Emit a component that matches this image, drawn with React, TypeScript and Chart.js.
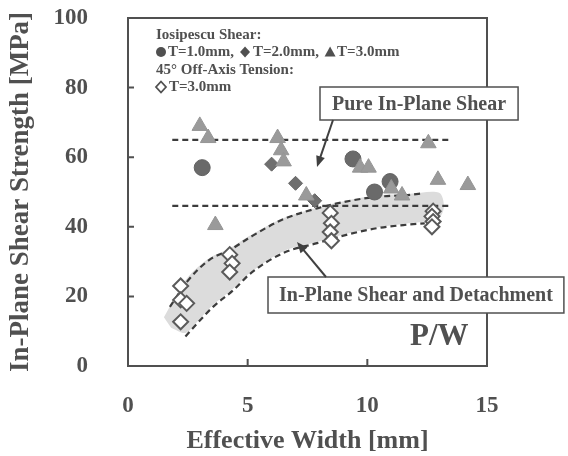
import React, { useEffect, useRef } from 'react';
import { Chart, registerables } from 'chart.js';

Chart.register(...registerables);

// ---- data ----
const xTicks = [0, 5, 10, 15];
const yTicks = [0, 20, 40, 60, 80, 100];

const circlesX = [3.1, 9.4, 10.3, 10.95];
const circlesY = [57, 59.5, 50, 53];

const diamondsX = [6.0, 7.0, 7.8];
const diamondsY = [58, 52.5, 47.5];

const trianglesX = [3.0, 3.35, 3.65, 6.25, 6.4, 6.5, 7.45, 9.7, 10.05, 11.0, 11.45, 12.55, 12.95, 14.2];
const trianglesY = [69, 65.5, 40.5, 65.5, 62, 58.8, 49, 57, 57, 51, 49, 64, 53.5, 52];

const offAxisX = [2.2, 2.2, 2.45, 2.2, 4.25, 4.35, 4.25, 8.45, 8.5, 8.45, 8.5, 12.75, 12.7, 12.75, 12.7];
const offAxisY = [23, 19, 18, 12.7, 32, 29.5, 27, 44, 41, 38.5, 36, 44.5, 43, 41.5, 40];

const pureLineX = [1.85, 13.5];
const pureUpperY = [65, 65];
const pureLowerY = [46, 46];

const upperCurveX = [1.75, 2.5, 3.4, 4.3, 5.1, 6.5, 7.9, 9.3, 10.4, 11.8, 12.3];
const upperCurveY = [17, 24.5, 30.5, 33.5, 37, 42.2, 45.3, 47.5, 48.6, 49.2, 49.6];

const lowerCurveX = [2.4, 2.9, 3.55, 4.4, 5.1, 6.5, 7.9, 9.3, 10.4, 11.5, 12.4];
const lowerCurveY = [8.5, 12.3, 17, 21.8, 26.5, 32.5, 35.3, 38, 39.6, 40.5, 41];

const bandX = [1.5, 1.9, 2.5, 3.4, 4.3, 5.1, 6.5, 7.9, 9.3, 10.4, 11.8, 13.0, 13.2, 13.0, 12.4, 11.5, 10.4, 9.3, 7.9, 6.5, 5.1, 4.4, 3.55, 2.9, 2.4, 1.8];
const bandY = [14, 19, 25.5, 31, 34, 37.5, 42.5, 45.5, 47.8, 49, 49.5, 49.8, 46, 42.5, 41.5, 40.8, 39.8, 38.3, 35.6, 33, 26.8, 22.3, 17.5, 12.8, 9.5, 11];

const legendTitle1 = 'Iosipescu Shear:';
const legendItems1 = ['T=1.0mm,', 'T=2.0mm,', 'T=3.0mm'];
const legendTitle2 = '45° Off-Axis Tension:';
const legendItem2 = 'T=3.0mm';
const pureLabel = 'Pure In-Plane Shear';
const detachLabel = 'In-Plane Shear and Detachment';
const pwLabel = 'P/W';

const zip = (xs: number[], ys: number[]) => xs.map((x, i) => ({ x, y: ys[i] }));

const INK = '#505050';
const SERIF = '"Liberation Serif", "Times New Roman", serif';

function arrow(ctx: CanvasRenderingContext2D, x1: number, y1: number, x2: number, y2: number) {
  const a = Math.atan2(y2 - y1, x2 - x1);
  const L = 11, W = 4.5;
  ctx.beginPath();
  ctx.moveTo(x1, y1);
  ctx.lineTo(x2 - Math.cos(a) * L * 0.8, y2 - Math.sin(a) * L * 0.8);
  ctx.stroke();
  ctx.beginPath();
  ctx.moveTo(x2, y2);
  ctx.lineTo(x2 - Math.cos(a) * L + Math.sin(a) * W, y2 - Math.sin(a) * L - Math.cos(a) * W);
  ctx.lineTo(x2 - Math.cos(a) * L - Math.sin(a) * W, y2 - Math.sin(a) * L + Math.cos(a) * W);
  ctx.closePath();
  ctx.fill();
}

const decor = {
  id: 'decor',
  beforeDatasetsDraw(chart: any) {
    const ctx: CanvasRenderingContext2D = chart.ctx;
    const { left, right, top, bottom } = chart.chartArea;
    const xs = chart.scales.x, ys = chart.scales.y;
    ctx.save();
    ctx.strokeStyle = INK;
    ctx.lineWidth = 2;
    ctx.strokeRect(left, top, right - left, bottom - top);
    ctx.beginPath();
    for (const t of yTicks) {
      if (t === 0 || t === 100) continue;
      const y = ys.getPixelForValue(t);
      ctx.moveTo(left, y); ctx.lineTo(left + 6, y);
    }
    for (const t of xTicks) {
      if (t === 0 || t === 15) continue;
      const x = xs.getPixelForValue(t);
      ctx.moveTo(x, bottom); ctx.lineTo(x, bottom - 7);
    }
    ctx.stroke();
    ctx.restore();
  },
  afterDraw(chart: any) {
    const ctx: CanvasRenderingContext2D = chart.ctx;
    const { left, top } = chart.chartArea;
    ctx.save();
    ctx.fillStyle = INK;
    ctx.strokeStyle = INK;
    ctx.textBaseline = 'middle';
    ctx.textAlign = 'left';

    // legend text
    const lx = left + 28;
    ctx.font = `bold 15px ${SERIF}`;
    ctx.fillText(legendTitle1, lx, top + 17);
    let x = lx;
    const ly = top + 34;
    ctx.beginPath(); ctx.arc(x + 5, ly, 5, 0, Math.PI * 2); ctx.fill();
    x += 12;
    ctx.fillText(legendItems1[0], x, ly);
    x += ctx.measureText(legendItems1[0]).width + 6;
    ctx.beginPath(); ctx.moveTo(x + 5, ly - 5.5); ctx.lineTo(x + 10, ly); ctx.lineTo(x + 5, ly + 5.5); ctx.lineTo(x, ly); ctx.closePath(); ctx.fill();
    x += 13;
    ctx.fillText(legendItems1[1], x, ly);
    x += ctx.measureText(legendItems1[1]).width + 6;
    ctx.beginPath(); ctx.moveTo(x + 5, ly - 5.5); ctx.lineTo(x + 10.5, ly + 4.5); ctx.lineTo(x - 0.5, ly + 4.5); ctx.closePath(); ctx.fill();
    x += 12;
    ctx.fillText(legendItems1[2], x, ly);
    ctx.fillText(legendTitle2, lx, top + 52);
    const ly4 = top + 69;
    ctx.lineWidth = 1.8;
    ctx.beginPath(); ctx.moveTo(lx + 5, ly4 - 5.5); ctx.lineTo(lx + 10, ly4); ctx.lineTo(lx + 5, ly4 + 5.5); ctx.lineTo(lx, ly4); ctx.closePath(); ctx.stroke();
    ctx.fillText(legendItem2, lx + 13, ly4);

    // Pure In-Plane Shear box
    ctx.font = `bold 20px ${SERIF}`;
    const pw = ctx.measureText(pureLabel).width;
    const bx = 320, by = 87, bh = 33;
    ctx.fillStyle = '#ffffff';
    ctx.fillRect(bx, by, pw + 24, bh);
    ctx.lineWidth = 1.5;
    ctx.strokeRect(bx, by, pw + 24, bh);
    ctx.fillStyle = INK;
    ctx.fillText(pureLabel, bx + 12, by + bh / 2 + 1);

    // Detachment box
    const dw = ctx.measureText(detachLabel).width;
    const dx = 268, dy = 277, dh = 36;
    ctx.fillStyle = '#ffffff';
    ctx.fillRect(dx, dy, dw + 22, dh);
    ctx.strokeRect(dx, dy, dw + 22, dh);
    ctx.fillStyle = INK;
    ctx.fillText(detachLabel, dx + 11, dy + dh / 2 + 1);

    // arrows
    ctx.lineWidth = 2;
    ctx.fillStyle = '#404040';
    ctx.strokeStyle = '#404040';
    arrow(ctx, 333, by + bh, 317, 167);
    arrow(ctx, 326, dy, 297, 242);

    // P/W
    ctx.fillStyle = INK;
    ctx.font = `bold 31px ${SERIF}`;
    ctx.fillText(pwLabel, 410, 337);
    ctx.restore();
  },
};

export default function App() {
  const ref = useRef<HTMLCanvasElement | null>(null);
  useEffect(() => {
    document.body.style.margin = '0';
    const canvas = ref.current!;
    const dash = { borderColor: '#3c3c3c', borderWidth: 2.2, borderDash: [6, 4], pointRadius: 0, showLine: true, fill: false };
    const chart = new Chart(canvas, {
      type: 'scatter',
      data: {
        datasets: [
          { data: zip(bandX, bandY), showLine: true, pointRadius: 0, borderWidth: 0, borderColor: 'rgba(0,0,0,0)', backgroundColor: '#dcdcdc', fill: 'shape', tension: 0.3, order: 20 } as any,
          { data: zip(pureLineX, pureUpperY), ...dash, order: 10 },
          { data: zip(pureLineX, pureLowerY), ...dash, order: 10 },
          { data: zip(upperCurveX, upperCurveY), ...dash, cubicInterpolationMode: 'monotone', order: 10 },
          { data: zip(lowerCurveX, lowerCurveY), ...dash, cubicInterpolationMode: 'monotone', order: 10 },
          { data: zip(circlesX, circlesY), pointStyle: 'circle', pointRadius: 8, backgroundColor: '#6a6a6a', borderColor: '#626262', borderWidth: 1, order: 5 },
          { data: zip(diamondsX, diamondsY), pointStyle: 'rectRot', pointRadius: 7, backgroundColor: '#6f6f6f', borderColor: '#666666', borderWidth: 1, order: 4 },
          { data: zip(trianglesX, trianglesY), pointStyle: 'triangle', pointRadius: 9, backgroundColor: '#9a9a9a', borderColor: '#959595', borderWidth: 1, order: 3 },
          { data: zip(offAxisX, offAxisY), pointStyle: 'rectRot', pointRadius: 7.5, backgroundColor: '#ffffff', borderColor: '#5a5a5a', borderWidth: 2, order: 2 },
        ] as any,
      },
      options: {
        responsive: false,
        animation: false,
        devicePixelRatio: 1,
        layout: { padding: { top: 18, right: 81, left: 0, bottom: 0 } },
        plugins: { legend: { display: false }, tooltip: { enabled: false } },
        scales: {
          x: {
            type: 'linear', min: 0, max: 15,
            afterBuildTicks: (s: any) => { s.ticks = xTicks.map((v) => ({ value: v })); },
            grid: { display: false, drawTicks: false },
            border: { display: false },
            ticks: { font: { family: SERIF, size: 23, weight: 'bold' }, color: INK, padding: 26, maxRotation: 0 },
            title: { display: true, text: 'Effective Width [mm]', font: { family: SERIF, size: 26, weight: 'bold', lineHeight: 1.0 }, color: INK, padding: { top: 0, bottom: 2 } },
            afterFit: (s: any) => { s.height = 90; s.paddingLeft = 0; s.paddingRight = 0; },
          },
          y: {
            type: 'linear', min: 0, max: 100,
            afterBuildTicks: (s: any) => { s.ticks = yTicks.map((v) => ({ value: v })); },
            grid: { display: false, drawTicks: false },
            border: { display: false },
            ticks: { font: { family: SERIF, size: 23, weight: 'bold' }, color: INK, padding: 40 },
            title: { display: true, text: 'In-Plane Shear Strength [MPa]', font: { family: SERIF, size: 27, weight: 'bold' }, color: INK, padding: { top: 5, bottom: 0 } },
            afterFit: (s: any) => { s.width = 128; s.paddingTop = 0; s.paddingBottom = 0; },
          },
        },
      } as any,
      plugins: [decor],
    });
    return () => chart.destroy();
  }, []);
  return <canvas ref={ref} width={568} height={456} style={{ display: 'block', width: 568, height: 456 }} />;
}
